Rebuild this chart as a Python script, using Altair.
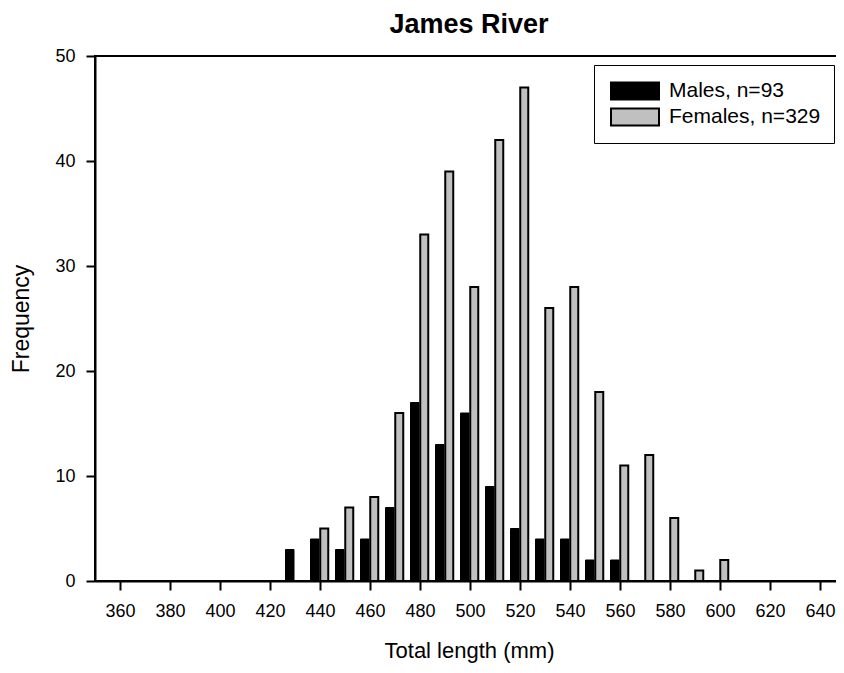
import altair as alt
import pandas as pd

# Bin centres (mm)
male_lengths = [430, 440, 450, 460, 470, 480, 490, 500, 510, 520, 530, 540, 550, 560]
male_counts = [3, 4, 3, 4, 7, 17, 13, 16, 9, 5, 4, 4, 2, 2]

female_lengths = [440, 450, 460, 470, 480, 490, 500, 510, 520, 530, 540, 550, 560, 570, 580, 590, 600]
female_counts = [5, 7, 8, 16, 33, 39, 28, 42, 47, 26, 28, 18, 11, 12, 6, 1, 2]

x_ticks = list(range(360, 641, 20))
y_ticks = [0, 10, 20, 30, 40, 50]

male_label = "Males, n=93"
female_label = "Females, n=329"

males = pd.DataFrame({"length": male_lengths, "count": male_counts, "sex": male_label})
females = pd.DataFrame({"length": female_lengths, "count": female_counts, "sex": female_label})

FONT = "Liberation Sans"

fill_scale = alt.Scale(domain=[male_label, female_label], range=["#000000", "#c0c0c0"])
legend = alt.Legend(
    title=None,
    orient="none",
    legendX=499,
    legendY=9,
    padding=13,
    strokeColor="#000000",
    fillColor="#ffffff",
    symbolType="M-0.75,-0.7L3.25,-0.7L3.25,0.7L-0.75,0.7Z",
    symbolSize=576,
    symbolStrokeColor="#000000",
    symbolStrokeWidth=2,
    symbolOpacity=1,
    labelFont=FONT,
    labelFontSize=21,
    labelColor="#000000",
    labelOffset=36,
    rowPadding=0,
)

x_enc = alt.X(
    "x0:Q",
    scale=alt.Scale(domain=[350, 649.2], nice=False, zero=False),
    axis=alt.Axis(
        values=x_ticks,
        format="d",
        title="Total length (mm)",
        grid=False,
        domainColor="#000000",
        domainWidth=2,
        tickColor="#000000",
        tickWidth=2,
        tickSize=9,
        labelFont=FONT,
        labelFontSize=18,
        labelColor="#000000",
        labelPadding=12,
        titleFont=FONT,
        titleFontSize=22,
        titleFontWeight="normal",
        titleColor="#000000",
        titlePadding=20,
    ),
)
y_enc = alt.Y(
    "count:Q",
    scale=alt.Scale(domain=[0, 50], nice=False),
    axis=alt.Axis(
        values=y_ticks,
        title="Frequency",
        grid=False,
        domainColor="#000000",
        domainWidth=2,
        tickColor="#000000",
        tickWidth=2,
        tickSize=9,
        labelFont=FONT,
        labelFontSize=18,
        labelColor="#000000",
        labelPadding=11,
        titleFont=FONT,
        titleFontSize=23,
        titleFontWeight="normal",
        titleColor="#000000",
        titlePadding=21,
    ),
)

male_layer = (
    alt.Chart(males)
    .transform_calculate(x0="datum.length - 3.8", x1="datum.length - 0.4")
    .mark_bar(stroke="#000000", strokeWidth=1)
    .encode(
        x=x_enc,
        x2="x1:Q",
        y=y_enc,
        y2=alt.datum(0),
        fill=alt.Fill("sex:N", scale=fill_scale, legend=legend),
    )
)
female_layer = (
    alt.Chart(females)
    .transform_calculate(x0="datum.length + 0.1", x1="datum.length + 3.3")
    .mark_bar(stroke="#000000", strokeWidth=2)
    .encode(
        x=x_enc,
        x2="x1:Q",
        y=y_enc,
        y2=alt.datum(0),
        fill=alt.Fill("sex:N", scale=fill_scale, legend=legend),
    )
)

chart = (
    alt.layer(male_layer, female_layer)
    .properties(
        width=748,
        height=525,
        title=alt.TitleParams(
            "James River",
            font=FONT,
            fontSize=27,
            fontWeight="bold",
            color="#000000",
            offset=8,
            frame="group",
        ),
        autosize=alt.AutoSizeParams(type="none"),
        padding={"left": 87, "top": 48, "right": -7, "bottom": 82},
    )
    .configure_view(stroke="#000000", strokeWidth=2)
)

chart.save("out.html", embed_options={"renderer": "svg", "actions": False})
